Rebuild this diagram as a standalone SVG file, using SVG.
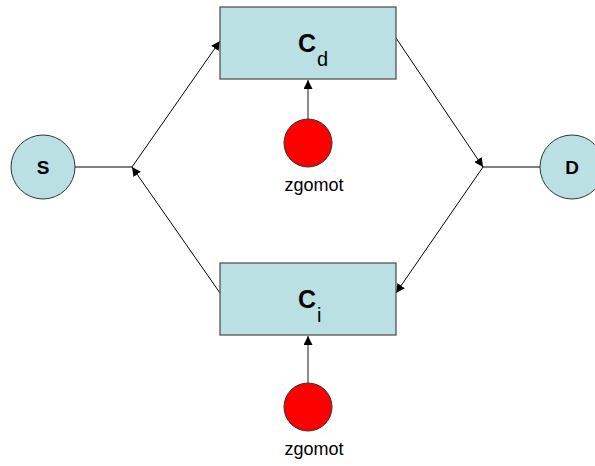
<svg xmlns="http://www.w3.org/2000/svg" width="595" height="466" viewBox="0 0 595 466">
<style>
.box{fill:#bbe0e3;stroke:#555;stroke-width:1.3}
.circ{fill:#bbe0e3;stroke:#333;stroke-width:1}
.red{fill:#ff0000;stroke:#333;stroke-width:1}
.ln{stroke:#000;stroke-width:1;fill:none}
.gl{stroke:#666;stroke-width:1.5;fill:none}
text{font-family:"Liberation Sans",Arial,sans-serif;fill:#000}
.b{font-weight:bold}
</style>
<defs>
<marker id="ah" viewBox="0 0 10 10" refX="10" refY="5" markerWidth="9" markerHeight="9" markerUnits="userSpaceOnUse" orient="auto">
<path d="M0,0 L10,5 L0,10 z" fill="#000"/>
</marker>
</defs>
<g id="connectors">
<line class="ln" x1="75" y1="167" x2="132" y2="167"/>
<line class="ln" x1="132" y1="167" x2="220" y2="41" marker-end="url(#ah)"/>
<line class="ln" x1="220" y1="293" x2="132" y2="167" marker-end="url(#ah)"/>
<line class="ln" x1="396" y1="38" x2="483" y2="167" marker-end="url(#ah)"/>
<line class="ln" x1="483" y1="167" x2="540" y2="167"/>
<line class="ln" x1="483" y1="167" x2="396" y2="293" marker-end="url(#ah)"/>
<line class="gl" x1="308" y1="119" x2="308" y2="80" marker-end="url(#ah)"/>
<line class="gl" x1="308" y1="383" x2="308" y2="336" marker-end="url(#ah)"/>
</g>
<g id="S">
<circle class="circ" cx="43" cy="167" r="32"/>
<text class="b" x="43" y="174" font-size="19" text-anchor="middle">S</text>
</g>
<g id="D">
<circle class="circ" cx="572" cy="167" r="32"/>
<text class="b" x="572" y="174" font-size="19" text-anchor="middle">D</text>
</g>
<g id="Cd">
<rect class="box" x="220" y="7" width="176" height="72"/>
<text x="298" y="52" font-size="25"><tspan class="b">C</tspan><tspan font-size="20" dx="1" dy="14">d</tspan></text>
</g>
<g id="Ci">
<rect class="box" x="220" y="263" width="176" height="72"/>
<text x="298" y="308" font-size="25"><tspan class="b">C</tspan><tspan font-size="20" dx="1" dy="14">i</tspan></text>
</g>
<g id="noise1">
<circle class="red" cx="308" cy="143" r="24"/>
<text x="314" y="191" font-size="18" text-anchor="middle">zgomot</text>
</g>
<g id="noise2">
<circle class="red" cx="308" cy="407" r="24"/>
<text x="314" y="455" font-size="18" text-anchor="middle">zgomot</text>
</g>
</svg>
